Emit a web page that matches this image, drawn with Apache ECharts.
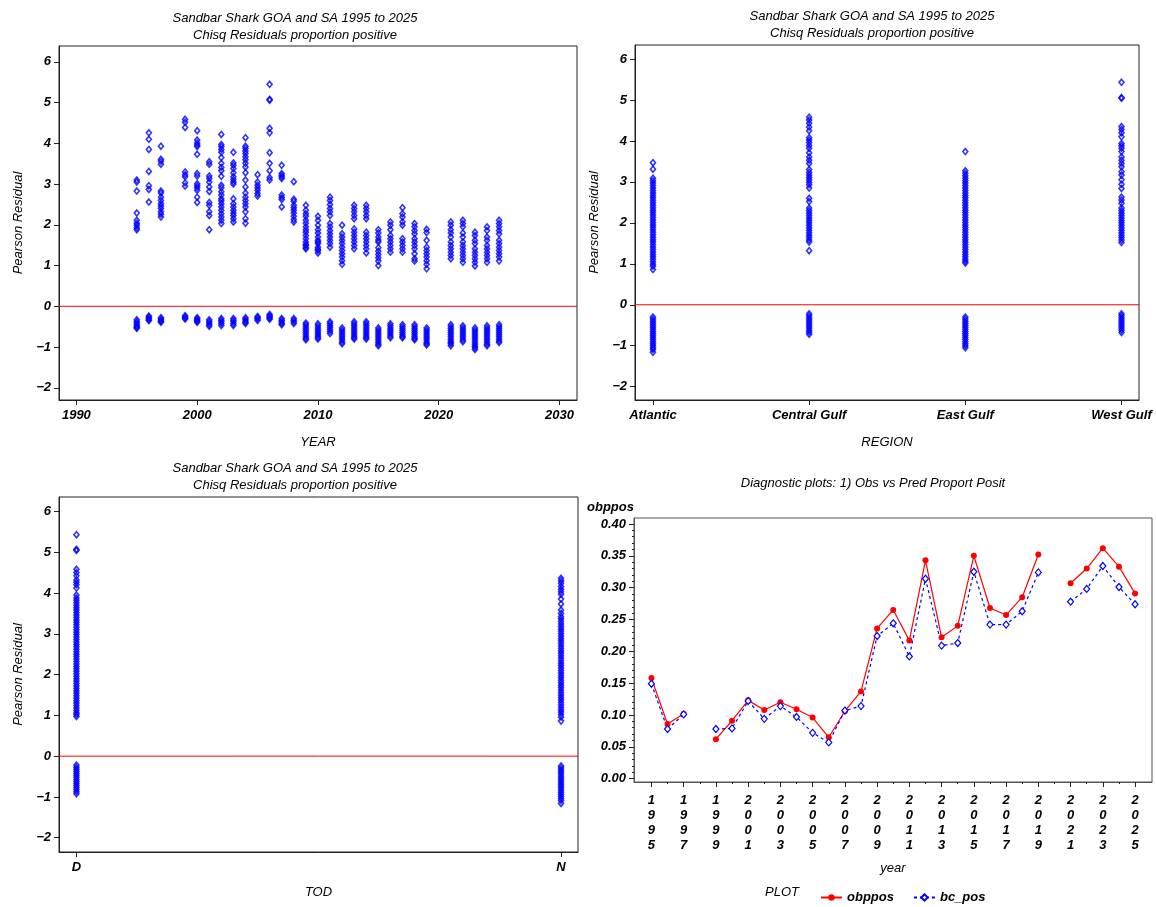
<!DOCTYPE html>
<html>
<head>
<meta charset="utf-8">
<script src="https://cdn.jsdelivr.net/npm/echarts@6/dist/echarts.min.js"></script>
<style>
  html, body { margin: 0; padding: 0; background: #fff; }
  #chart { width: 1156px; height: 907px; }
</style>
</head>
<body>
<div id="chart"></div>
<script>
"use strict";

// ---- residuals by YEAR (top left) ----
var residYears = [1995, 1996, 1997, 1999, 2000, 2001, 2002, 2003, 2004, 2005, 2006, 2007, 2008,
  2009, 2010, 2011, 2012, 2013, 2014, 2015, 2016, 2017, 2018, 2019, 2021, 2022, 2023, 2024, 2025];

var yearPos = [
  [3.10, 3.05, 2.83, 2.29, 2.11, 2.04, 1.99, 1.93, 1.88],
  [4.26, 4.10, 3.85, 3.31, 2.96, 2.87, 2.56],
  [3.93, 3.61, 3.56, 3.49, 2.83, 2.78, 2.68, 2.60, 2.52, 2.46, 2.40, 2.32, 2.26, 2.19],
  [4.59, 4.52, 4.39, 3.30, 3.23, 3.18, 3.03, 2.95],
  [4.31, 4.08, 4.01, 3.96, 3.92, 3.73, 3.26, 3.20, 3.01, 2.96, 2.91, 2.85, 2.68, 2.55],
  [3.55, 3.49, 3.20, 3.14, 3.05, 2.93, 2.82, 2.55, 2.48, 2.32, 2.23, 1.88],
  [4.22, 3.97, 3.92, 3.85, 3.78, 3.65, 3.51, 3.41, 3.33, 3.19, 2.97, 2.91, 2.81, 2.73, 2.64, 2.59, 2.52, 2.44, 2.36, 2.27, 2.19, 2.11, 2.03],
  [3.78, 3.52, 3.46, 3.38, 3.28, 3.18, 3.11, 3.05, 3.00, 2.64, 2.52, 2.44, 2.36, 2.29, 2.23, 2.15, 2.07],
  [4.14, 3.93, 3.88, 3.81, 3.75, 3.67, 3.60, 3.51, 3.42, 3.28, 3.10, 2.93, 2.78, 2.68, 2.60, 2.52, 2.44, 2.32, 2.15, 2.04],
  [3.23, 3.05, 2.97, 2.91, 2.85, 2.77, 2.71],
  [5.45, 5.08, 5.06, 4.37, 4.26, 3.77, 3.51, 3.33, 3.16, 3.10],
  [3.46, 3.26, 3.22, 3.18, 3.14, 2.73, 2.67, 2.62, 2.44],
  [3.06, 2.63, 2.58, 2.48, 2.42, 2.36, 2.29, 2.21, 2.13, 2.07],
  [2.48, 2.36, 2.27, 2.21, 2.11, 2.04, 1.95, 1.88, 1.82, 1.74, 1.66, 1.58, 1.52, 1.49, 1.44, 1.41],
  [2.21, 2.11, 1.99, 1.88, 1.80, 1.70, 1.62, 1.58, 1.54, 1.45, 1.40, 1.37, 1.31],
  [2.68, 2.60, 2.50, 2.40, 2.32, 2.23, 2.03, 1.95, 1.86, 1.78, 1.70, 1.62, 1.54, 1.45],
  [1.99, 1.78, 1.70, 1.62, 1.54, 1.45, 1.37, 1.29, 1.21, 1.12, 1.03],
  [2.48, 2.40, 2.32, 2.23, 2.15, 1.90, 1.82, 1.74, 1.66, 1.58, 1.49, 1.41],
  [2.48, 2.40, 2.32, 2.23, 2.15, 1.82, 1.74, 1.66, 1.58, 1.49, 1.41, 1.31],
  [1.88, 1.80, 1.70, 1.63, 1.58, 1.44, 1.35, 1.27, 1.19, 1.11, 1.00],
  [2.07, 1.99, 1.88, 1.74, 1.66, 1.58, 1.49, 1.41, 1.33],
  [2.42, 2.27, 2.19, 2.07, 1.99, 1.66, 1.58, 1.49, 1.41, 1.33],
  [2.03, 1.95, 1.86, 1.78, 1.66, 1.58, 1.49, 1.41, 1.29, 1.17, 1.11],
  [1.89, 1.81, 1.62, 1.45, 1.37, 1.29, 1.21, 1.12, 1.03, 0.92],
  [2.07, 1.99, 1.88, 1.80, 1.70, 1.58, 1.49, 1.41, 1.33, 1.25, 1.17],
  [2.11, 2.03, 1.95, 1.80, 1.70, 1.58, 1.49, 1.41, 1.33, 1.25, 1.17, 1.08],
  [1.82, 1.74, 1.62, 1.54, 1.41, 1.33, 1.25, 1.17, 1.08, 0.99],
  [1.95, 1.86, 1.70, 1.62, 1.49, 1.41, 1.33, 1.25, 1.17, 1.08],
  [2.11, 2.03, 1.95, 1.86, 1.78, 1.62, 1.54, 1.45, 1.37, 1.29, 1.21, 1.11]
];

var yearNeg = [
  [-0.33, -0.37, -0.41, -0.45, -0.49, -0.52, -0.54],
  [-0.24, -0.27, -0.30, -0.33, -0.35],
  [-0.28, -0.31, -0.34, -0.37, -0.39],
  [-0.23, -0.26, -0.29, -0.31],
  [-0.28, -0.31, -0.34, -0.37, -0.39],
  [-0.33, -0.37, -0.41, -0.45, -0.49],
  [-0.30, -0.34, -0.38, -0.42, -0.47],
  [-0.30, -0.34, -0.38, -0.43, -0.47],
  [-0.28, -0.32, -0.36, -0.39, -0.42],
  [-0.25, -0.28, -0.31, -0.35],
  [-0.20, -0.23, -0.26, -0.29, -0.32],
  [-0.30, -0.34, -0.38, -0.42, -0.45],
  [-0.30, -0.34, -0.38, -0.42],
  [-0.41, -0.45, -0.50, -0.55, -0.60, -0.65, -0.70, -0.75, -0.79, -0.82],
  [-0.43, -0.48, -0.53, -0.58, -0.63, -0.68, -0.73, -0.77, -0.80],
  [-0.38, -0.42, -0.47, -0.52, -0.57, -0.62, -0.67],
  [-0.53, -0.58, -0.63, -0.68, -0.73, -0.78, -0.83, -0.88, -0.92],
  [-0.38, -0.43, -0.48, -0.53, -0.58, -0.63, -0.68, -0.73, -0.77, -0.80],
  [-0.38, -0.43, -0.48, -0.53, -0.58, -0.63, -0.68, -0.73, -0.77, -0.80],
  [-0.53, -0.58, -0.63, -0.68, -0.73, -0.78, -0.83, -0.88, -0.93, -0.97],
  [-0.43, -0.48, -0.53, -0.58, -0.63, -0.68, -0.73, -0.77],
  [-0.45, -0.50, -0.55, -0.60, -0.65, -0.70, -0.74, -0.77],
  [-0.45, -0.50, -0.55, -0.60, -0.65, -0.70, -0.75, -0.79, -0.82],
  [-0.53, -0.58, -0.63, -0.68, -0.73, -0.78, -0.83, -0.88, -0.92, -0.95],
  [-0.45, -0.50, -0.55, -0.60, -0.65, -0.70, -0.75, -0.80, -0.85, -0.89, -0.92, -0.97],
  [-0.48, -0.53, -0.58, -0.63, -0.68, -0.73, -0.78, -0.83, -0.87],
  [-0.53, -0.58, -0.63, -0.68, -0.73, -0.78, -0.83, -0.88, -0.93, -0.98, -1.02, -1.06],
  [-0.48, -0.53, -0.58, -0.63, -0.68, -0.73, -0.78, -0.83, -0.88, -0.93, -0.97],
  [-0.45, -0.50, -0.55, -0.60, -0.65, -0.70, -0.75, -0.80, -0.85, -0.89]
];

// ---- residuals by REGION (top right) ----
var regions = ['Atlantic', 'Central Gulf', 'East Gulf', 'West Gulf'];
var regionPos = [
  [3.47, 3.31, 3.09, 3.03, 2.97, 2.91, 2.85, 2.79, 2.73, 2.67, 2.61, 2.55, 2.49, 2.43, 2.37, 2.31, 2.25, 2.19, 2.13, 2.07,
   2.01, 1.95, 1.89, 1.83, 1.77, 1.71, 1.65, 1.59, 1.53, 1.47, 1.41, 1.35, 1.29, 1.23, 1.17, 1.11, 1.05, 0.99, 0.94, 0.86],
  [4.58, 4.51, 4.43, 4.34, 4.25, 4.08, 4.02, 3.96, 3.89, 3.82, 3.71, 3.61, 3.53, 3.45, 3.30, 3.23, 3.17, 3.11, 3.05, 2.99,
   2.93, 2.85, 2.60, 2.52, 2.36, 2.30, 2.24, 2.18, 2.12, 2.06, 2.00, 1.94, 1.88, 1.82, 1.76, 1.70, 1.64, 1.58, 1.53, 1.32],
  [3.74, 3.27, 3.21, 3.15, 3.09, 3.03, 2.97, 2.91, 2.85, 2.79, 2.73, 2.67, 2.61, 2.55, 2.49, 2.43, 2.37, 2.31, 2.25, 2.19,
   2.13, 2.07, 2.01, 1.95, 1.89, 1.83, 1.77, 1.71, 1.65, 1.59, 1.53, 1.47, 1.41, 1.35, 1.29, 1.23, 1.17, 1.11, 1.06, 1.02],
  [5.43, 5.06, 5.04, 4.35, 4.28, 4.20, 4.10, 3.94, 3.88, 3.82, 3.74, 3.61, 3.53, 3.45, 3.37, 3.25, 3.17, 3.05, 2.94, 2.84,
   2.63, 2.56, 2.48, 2.36, 2.30, 2.24, 2.18, 2.12, 2.06, 2.00, 1.94, 1.88, 1.82, 1.76, 1.70, 1.64, 1.58, 1.52]
];
var regionNeg = [
  [-0.30, -0.35, -0.40, -0.45, -0.50, -0.55, -0.60, -0.65, -0.70, -0.75, -0.80, -0.85, -0.90, -0.95, -1.00, -1.05, -1.09, -1.16],
  [-0.22, -0.27, -0.32, -0.37, -0.42, -0.47, -0.52, -0.57, -0.62, -0.67, -0.72],
  [-0.30, -0.35, -0.40, -0.45, -0.50, -0.55, -0.60, -0.65, -0.70, -0.75, -0.80, -0.85, -0.90, -0.95, -1.00, -1.05],
  [-0.22, -0.27, -0.32, -0.37, -0.42, -0.47, -0.52, -0.57, -0.62, -0.68]
];

// ---- residuals by TOD (bottom left) ----
var tods = ['D', 'N'];
var todPos = [
  [5.43, 5.07, 5.04, 4.58, 4.50, 4.42, 4.32, 4.26, 4.20, 4.12, 3.95, 3.88, 3.82, 3.76, 3.70, 3.64, 3.58, 3.52, 3.46, 3.40,
   3.34, 3.28, 3.22, 3.16, 3.10, 3.04, 2.98, 2.92, 2.86, 2.80, 2.74, 2.68, 2.62, 2.56, 2.50, 2.44, 2.38, 2.32, 2.26, 2.20,
   2.14, 2.08, 2.02, 1.96, 1.90, 1.84, 1.78, 1.72, 1.66, 1.60, 1.54, 1.48, 1.42, 1.36, 1.30, 1.24, 1.18, 1.12, 1.06, 1.02, 0.97],
  [4.36, 4.30, 4.24, 4.16, 4.09, 4.03, 3.97, 3.85, 3.73, 3.58, 3.50, 3.42, 3.36, 3.30, 3.24, 3.18, 3.12, 3.06, 3.00, 2.94,
   2.88, 2.82, 2.76, 2.70, 2.64, 2.58, 2.52, 2.46, 2.40, 2.34, 2.28, 2.22, 2.16, 2.10, 2.04, 1.98, 1.92, 1.86, 1.80, 1.74,
   1.68, 1.62, 1.56, 1.50, 1.44, 1.38, 1.32, 1.26, 1.20, 1.14, 1.08, 1.02, 0.96, 0.86]
];
var todNeg = [
  [-0.22, -0.27, -0.32, -0.37, -0.42, -0.47, -0.52, -0.57, -0.62, -0.67, -0.72, -0.77, -0.82, -0.87, -0.92],
  [-0.24, -0.29, -0.34, -0.39, -0.44, -0.49, -0.54, -0.59, -0.64, -0.69, -0.74, -0.79, -0.84, -0.89, -0.94, -0.99, -1.04, -1.09, -1.16]
];

// ---- observed vs predicted proportion positive (bottom right) ----
var lineYears = [1995, 1996, 1997, 1998, 1999, 2000, 2001, 2002, 2003, 2004, 2005, 2006, 2007, 2008, 2009, 2010,
  2011, 2012, 2013, 2014, 2015, 2016, 2017, 2018, 2019, 2020, 2021, 2022, 2023, 2024, 2025];
var obppos = [0.158, 0.086, 0.102, null, 0.062, 0.091, 0.123, 0.108, 0.120, 0.109, 0.096, 0.065, 0.106, 0.137, 0.236, 0.265,
  0.217, 0.343, 0.222, 0.240, 0.350, 0.268, 0.257, 0.285, 0.352, null, 0.307, 0.330, 0.362, 0.333, 0.291];
var bcPos = [0.149, 0.078, 0.101, null, 0.078, 0.079, 0.122, 0.094, 0.114, 0.097, 0.072, 0.057, 0.107, 0.114, 0.224, 0.244,
  0.192, 0.314, 0.209, 0.213, 0.325, 0.242, 0.242, 0.263, 0.324, null, 0.278, 0.298, 0.334, 0.301, 0.274];

var residTicks = [-2, -1, 0, 1, 2, 3, 4, 5, 6];
var yearTicks = [1990, 2000, 2010, 2020, 2030];
var propTicks = [0, 0.05, 0.1, 0.15, 0.2, 0.25, 0.3, 0.35, 0.4];

var FONT = 'Liberation Sans';
var BLUE = '#0000ff';

// x-extent of each residual panel: [min, max]
var ext = [[1988.56, 2031.45], [-0.115, 3.112], [-0.036, 1.035]];

function flatten(keys, lists) {
  var out = [];
  lists.forEach(function (vals, i) {
    vals.forEach(function (v) { out.push([keys[i], v]); });
  });
  return out;
}

function minus(v) {
  return v < 0 ? '\u2212' + Math.abs(v) : String(v);
}

var tickFont = { fontFamily: FONT, fontSize: 13, fontWeight: 'bold', fontStyle: 'italic', color: '#000' };
var nameFont = { fontFamily: FONT, fontSize: 13, fontStyle: 'italic', color: '#000' };
var lineCol = { color: '#222', width: 1 };

function residYAxis(grid, min, max) {
  return {
    gridIndex: grid, type: 'value', min: min, max: max,
    name: 'Pearson Residual', nameLocation: 'middle', nameGap: 34, nameTextStyle: nameFont,
    axisLine: { show: true, onZero: false, lineStyle: lineCol },
    axisTick: { show: true, length: 5, customValues: residTicks, lineStyle: lineCol },
    axisLabel: { customValues: residTicks, formatter: minus, margin: 8, textStyle: tickFont },
    splitLine: { show: false }
  };
}

function catXAxis(grid, names, title, gap) {
  var ticks = names.map(function (n, i) { return i; });
  return {
    gridIndex: grid, type: 'value', min: ext[grid][0], max: ext[grid][1],
    name: title, nameLocation: 'middle', nameGap: gap, nameTextStyle: nameFont,
    axisLine: { show: true, onZero: false, lineStyle: lineCol },
    axisTick: { show: true, length: 5, customValues: ticks, lineStyle: lineCol },
    axisLabel: { customValues: ticks, formatter: function (v) { return names[Math.round(v)]; }, margin: 9, textStyle: tickFont },
    splitLine: { show: false }
  };
}

function scatter(i, data) {
  return {
    type: 'scatter', xAxisIndex: i, yAxisIndex: i, data: data, z: 3,
    symbol: 'diamond', symbolSize: [5, 6],
    itemStyle: { color: 'rgba(0,0,0,0)', borderColor: BLUE, borderWidth: 1.6 },
    silent: true
  };
}

// horizontal reference line at residual 0, across the whole panel
function zeroLine(i) {
  return {
    type: 'line', xAxisIndex: i, yAxisIndex: i, z: 2, silent: true,
    data: [[ext[i][0], 0], [ext[i][1], 0]],
    symbol: 'none', lineStyle: { color: '#ff0000', width: 1 }
  };
}

var yearData = flatten(residYears, yearPos).concat(flatten(residYears, yearNeg));
var regionData = flatten([0, 1, 2, 3], regionPos).concat(flatten([0, 1, 2, 3], regionNeg));
var todData = flatten([0, 1], todPos).concat(flatten([0, 1], todNeg));

function lineData(vals) {
  return lineYears.map(function (y, i) { return [y, vals[i] === null ? '-' : vals[i]]; });
}

var propMinor = [];
for (var k = 1; k < 40; k++) { if (k % 5 !== 0) propMinor.push(k / 100); }
var oddYears = lineYears.filter(function (y) { return y % 2 === 1; });
var evenYears = lineYears.filter(function (y) { return y % 2 === 0; });

var titleStyle = { fontFamily: FONT, fontSize: 13, fontStyle: 'italic', fontWeight: 'normal', color: '#000', lineHeight: 17 };
var mainTitle = 'Sandbar Shark GOA and SA 1995 to 2025\nChisq Residuals proportion positive';

var chart = echarts.init(document.getElementById('chart'), null, { renderer: 'canvas' });

var option = {
  backgroundColor: '#ffffff',
  animation: false,
  title: [
    { text: mainTitle, left: 290, top: 5, textAlign: 'center', textStyle: titleStyle },
    { text: mainTitle, left: 867, top: 3, textAlign: 'center', textStyle: titleStyle },
    { text: mainTitle, left: 290, top: 455, textAlign: 'center', textStyle: titleStyle },
    { text: 'Diagnostic plots: 1) Obs vs Pred Proport Posit', left: 868, top: 470, textAlign: 'center', textStyle: titleStyle }
  ],
  grid: [
    { left: 59, top: 46, width: 518, height: 354, show: true, borderColor: '#222', borderWidth: 1 },
    { left: 635, top: 45, width: 504, height: 355, show: true, borderColor: '#222', borderWidth: 1 },
    { left: 59, top: 497, width: 519, height: 355, show: true, borderColor: '#222', borderWidth: 1 },
    { left: 634, top: 518, width: 518, height: 264, show: true, borderColor: '#555', borderWidth: 1 }
  ],
  xAxis: [
    {
      gridIndex: 0, type: 'value', min: ext[0][0], max: ext[0][1],
      name: 'YEAR', nameLocation: 'middle', nameGap: 36, nameTextStyle: nameFont,
      axisLine: { show: true, onZero: false, lineStyle: lineCol },
      axisTick: { show: true, length: 5, customValues: yearTicks, lineStyle: lineCol },
      axisLabel: { customValues: yearTicks, margin: 9, textStyle: tickFont, formatter: function (v) { return String(v); } },
      splitLine: { show: false }
    },
    catXAxis(1, regions, 'REGION', 36),
    catXAxis(2, tods, 'TOD', 34),
    {
      gridIndex: 3, type: 'value', min: 1993.92, max: 2026.05,
      name: 'year', nameLocation: 'middle', nameGap: 80, nameTextStyle: nameFont,
      axisLine: { show: true, onZero: false, lineStyle: { color: '#555', width: 1 } },
      axisTick: { show: true, length: 5, customValues: oddYears, lineStyle: lineCol },
      axisLabel: {
        customValues: oddYears, margin: 11, lineHeight: 15, textStyle: tickFont,
        formatter: function (v) { return String(v).split('').join('\n'); }
      },
      splitLine: { show: false }
    },
    {
      gridIndex: 3, type: 'value', min: 1993.92, max: 2026.05, position: 'bottom',
      axisLine: { show: false, onZero: false },
      axisTick: { show: true, length: 2, customValues: evenYears, lineStyle: lineCol },
      axisLabel: { show: false },
      splitLine: { show: false }
    }
  ],
  yAxis: [
    residYAxis(0, -2.30, 6.39),
    residYAxis(1, -2.325, 6.342),
    residYAxis(2, -2.35, 6.353),
    {
      gridIndex: 3, type: 'value', min: -0.0052, max: 0.4094,
      axisLine: { show: true, onZero: false, lineStyle: { color: '#555', width: 1 } },
      axisTick: { show: true, length: 5, customValues: propTicks, lineStyle: lineCol },
      axisLabel: { customValues: propTicks, margin: 8, textStyle: tickFont, formatter: function (v) { return v.toFixed(2); } },
      splitLine: { show: false }
    },
    {
      gridIndex: 3, type: 'value', min: -0.0052, max: 0.4094, position: 'left',
      axisLine: { show: false, onZero: false },
      axisTick: { show: true, length: 2, customValues: propMinor, lineStyle: lineCol },
      axisLabel: { show: false },
      splitLine: { show: false }
    }
  ],
  legend: {
    left: 815, top: 886, itemWidth: 21, itemHeight: 8, itemGap: 19,
    textStyle: { fontFamily: FONT, fontSize: 13, fontStyle: 'italic', fontWeight: 'bold', color: '#000', padding: [0, 0, 0, 0] },
    data: ['obppos', 'bc_pos']
  },
  graphic: [
    { type: 'text', left: 587, top: 501, style: { text: 'obppos', fontFamily: FONT, fontSize: 13, fontStyle: 'italic', fontWeight: 'bold', fill: '#000' } },
    { type: 'text', left: 765, top: 886, style: { text: 'PLOT', fontFamily: FONT, fontSize: 13, fontStyle: 'italic', fill: '#000' } }
  ],
  series: [
    zeroLine(0),
    zeroLine(1),
    zeroLine(2),
    scatter(0, yearData),
    scatter(1, regionData),
    scatter(2, todData),
    {
      name: 'obppos', type: 'line', xAxisIndex: 3, yAxisIndex: 3, data: lineData(obppos),
      connectNulls: false, symbol: 'circle', symbolSize: 6, showAllSymbol: true,
      itemStyle: { color: '#ff0000' }, lineStyle: { color: '#ff0000', width: 1.2 }
    },
    {
      name: 'bc_pos', type: 'line', xAxisIndex: 3, yAxisIndex: 3, data: lineData(bcPos),
      connectNulls: false, symbol: 'diamond', symbolSize: [6, 7], showAllSymbol: true,
      itemStyle: { color: '#fff', borderColor: BLUE, borderWidth: 1.2 },
      lineStyle: { color: BLUE, width: 1.2, type: [3, 3] }
    }
  ]
};

chart.setOption(option);
</script>
</body>
</html>
